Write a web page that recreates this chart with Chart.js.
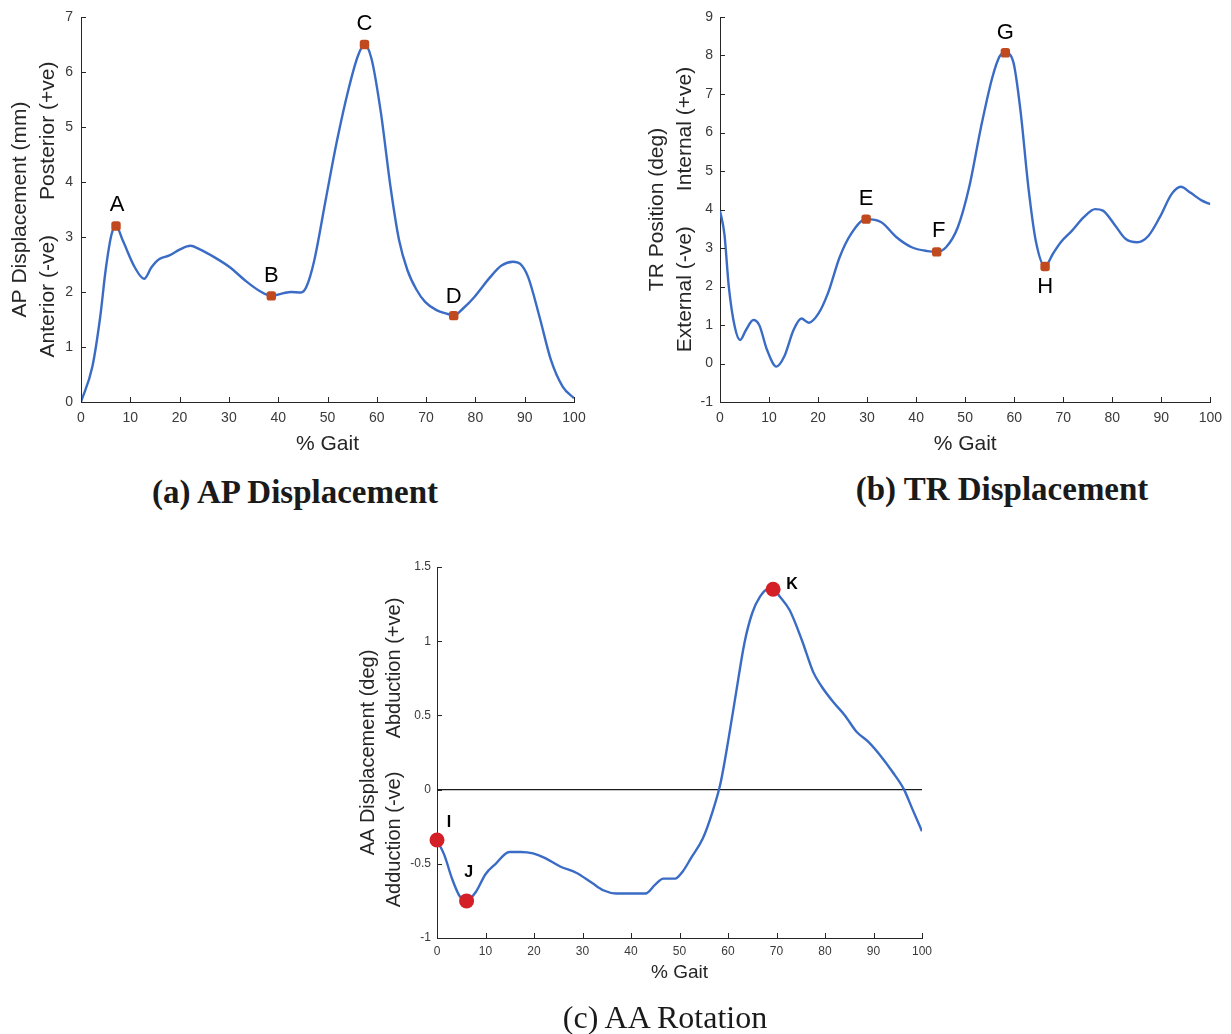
<!DOCTYPE html>
<html>
<head>
<meta charset="utf-8">
<script src="https://cdn.jsdelivr.net/npm/chart.js@4"></script>
<style>
  html, body { margin: 0; padding: 0; background: #fff; overflow: hidden; }
  body { width: 1231px; height: 1034px; position: relative; }
  canvas { position: absolute; }
  .cap { position: absolute; text-align: center; color: #1a1a1a; font-family: "Liberation Serif", "DejaVu Serif", serif; white-space: nowrap; }
</style>
</head>
<body>
<canvas id="apChart" width="610" height="470" style="left:0;top:0"></canvas>
<canvas id="trChart" width="600" height="470" style="left:630px;top:0"></canvas>
<canvas id="aaChart" width="600" height="460" style="left:340px;top:540px"></canvas>
<div class="cap" style="left:95px;top:474px;width:400px;font-size:33px;font-weight:bold">(a) AP Displacement</div>
<div class="cap" style="left:802px;top:471px;width:400px;font-size:33px;font-weight:bold">(b) TR Displacement</div>
<div class="cap" style="left:465px;top:999px;width:400px;font-size:32px">(c) AA Rotation</div>
<script>
// % gait ticks shared by all three panels
const gaitTicks = [0, 10, 20, 30, 40, 50, 60, 70, 80, 90, 100];

// (a) AP displacement (mm)
const apGait = [0, 2.3, 3.9, 5.0, 6.2, 7.1, 8.5, 10.9, 12.8, 14.3, 15.9, 17.8, 20.2, 22.2, 24, 27.1, 30.2, 33.3, 36.4, 38.6, 41.1, 42.6, 44.6, 45.7, 47.3, 49.6, 51.9, 54.3, 56.2, 57.5, 58.9, 60.8, 62.8, 64.5, 66.2, 68, 69.8, 72.1, 74.4, 75.6, 77.5, 79.8, 83, 85.3, 87.6, 89.1, 90.7, 93, 95.3, 97.7, 100];
const apValues = [0, 0.64, 1.55, 2.4, 3.05, 3.2, 2.93, 2.45, 2.24, 2.45, 2.6, 2.66, 2.78, 2.84, 2.78, 2.63, 2.45, 2.21, 2.01, 1.93, 1.98, 2.0, 1.99, 2.09, 2.57, 3.66, 4.74, 5.7, 6.3, 6.5, 6.25, 5.28, 3.9, 2.95, 2.4, 2.05, 1.82, 1.67, 1.6, 1.57, 1.7, 1.91, 2.27, 2.48, 2.55, 2.51, 2.27, 1.55, 0.77, 0.28, 0.07];
const apMarkNames = ['A', 'B', 'C', 'D'];
const apMarkGait = [7.1, 38.6, 57.5, 75.6];
const apMarkValues = [3.2, 1.93, 6.5, 1.57];
const apTicks = [0, 1, 2, 3, 4, 5, 6, 7];

// (b) TR position (deg)
const trGait = [0, 0.9, 1.8, 3, 4.1, 5.3, 6.8, 8, 9.6, 11.5, 13.1, 15, 16.6, 18.1, 20.1, 22, 24.4, 26.7, 29.8, 32.9, 36, 39.1, 42.3, 44.2, 46.1, 48.5, 50.8, 53.2, 55.5, 57, 58.2, 59.8, 61.3, 62.9, 64.4, 66.3, 67.9, 69.5, 71.8, 74.2, 76.5, 78.1, 80.4, 82.7, 85.1, 87.4, 89.7, 92.1, 94, 95.9, 98.3, 100];
const trValues = [3.97, 3.36, 1.99, 0.96, 0.61, 0.87, 1.13, 1.0, 0.35, -0.08, 0.18, 0.87, 1.17, 1.06, 1.3, 1.82, 2.76, 3.36, 3.75, 3.67, 3.28, 3.02, 2.92, 2.9, 3.02, 3.54, 4.57, 6.12, 7.41, 7.97, 8.07, 7.84, 6.55, 4.57, 3.19, 2.52, 2.85, 3.15, 3.45, 3.8, 4.01, 3.97, 3.62, 3.24, 3.15, 3.32, 3.8, 4.4, 4.59, 4.44, 4.23, 4.14];
const trMarkNames = ['E', 'F', 'G', 'H'];
const trMarkGait = [29.8, 44.2, 58.2, 66.3];
const trMarkValues = [3.75, 2.9, 8.07, 2.52];
const trTicks = [-1, 0, 1, 2, 3, 4, 5, 6, 7, 8, 9];

// (c) AA rotation (deg)
const aaGait = [0, 1.5, 3.1, 4.7, 6.1, 8, 10, 12.1, 14.9, 17.3, 19.8, 22.2, 25.5, 28.7, 32, 34.4, 36.9, 40.1, 43, 45, 46.7, 49.1, 50.7, 52.4, 54.8, 56.8, 58.5, 60.1, 61.7, 63.4, 65, 66.6, 68.2, 69.3, 70.7, 72.7, 75.2, 77.6, 79.2, 81.7, 84.1, 86.5, 89, 91.4, 93.9, 96.3, 98, 100];
const aaValues = [-0.34, -0.44, -0.6, -0.72, -0.75, -0.69, -0.57, -0.5, -0.42, -0.42, -0.43, -0.46, -0.52, -0.56, -0.63, -0.68, -0.7, -0.7, -0.7, -0.64, -0.6, -0.6, -0.55, -0.46, -0.33, -0.15, 0.05, 0.34, 0.66, 0.99, 1.19, 1.3, 1.35, 1.35, 1.3, 1.21, 1.01, 0.79, 0.7, 0.59, 0.5, 0.39, 0.32, 0.23, 0.12, 0.0, -0.13, -0.28];
const aaMarkNames = ['I', 'J', 'K'];
const aaMarkGait = [0, 6.1, 69.3];
const aaMarkValues = [-0.34, -0.75, 1.35];
const aaTicks = [-1, -0.5, 0, 0.5, 1, 1.5];

const LINE = 'rgb(58,108,198)';
const AXIS = '#262626';
const SANS = '"Liberation Sans", Arial, sans-serif';

const pts = (xs, ys) => xs.map((x, i) => ({ x: x, y: ys[i] }));

// MATLAB-style inward tick marks
const inwardTicks = {
  id: 'inwardTicks',
  afterDraw(chart) {
    const { ctx, chartArea: a, scales: { x, y } } = chart;
    ctx.save();
    ctx.strokeStyle = AXIS;
    ctx.lineWidth = 1;
    ctx.beginPath();
    x.ticks.forEach(t => {
      const px = Math.round(x.getPixelForValue(t.value)) + 0.5;
      ctx.moveTo(px, a.bottom); ctx.lineTo(px, a.bottom - 5);
    });
    y.ticks.forEach(t => {
      const py = Math.round(y.getPixelForValue(t.value)) + 0.5;
      ctx.moveTo(a.left, py); ctx.lineTo(a.left + 5, py);
    });
    ctx.stroke();
    ctx.restore();
  }
};

function letterPlugin(names, offsets, font) {
  return {
    id: 'letters',
    afterDatasetsDraw(chart) {
      const meta = chart.getDatasetMeta(1);
      const ctx = chart.ctx;
      ctx.save();
      ctx.font = font;
      ctx.fillStyle = '#000';
      ctx.textAlign = 'center';
      ctx.textBaseline = 'middle';
      meta.data.forEach((p, i) => ctx.fillText(names[i], p.x + offsets[i][0], p.y + offsets[i][1]));
      ctx.restore();
    }
  };
}

function panel(id, o) {
  const datasets = [
    { data: pts(o.xs, o.ys), borderColor: LINE, borderWidth: 2.4, pointRadius: 0, cubicInterpolationMode: 'monotone', order: 2 },
    { data: pts(o.mx, o.my), showLine: false, pointStyle: o.markStyle, pointRadius: o.markR, pointBackgroundColor: o.markC, pointBorderColor: o.markC, pointBorderWidth: 0, clip: false, order: 0 }
  ];
  if (o.zeroLine) {
    datasets.push({ data: pts([0, 100], [0, 0]), borderColor: '#1a1a1a', borderWidth: 1.2, pointRadius: 0, order: 3 });
  }
  return new Chart(document.getElementById(id), {
    type: 'line',
    data: { datasets: datasets },
    options: {
      responsive: false,
      animation: false,
      events: [],
      layout: { padding: o.pad },
      plugins: { legend: { display: false }, tooltip: { enabled: false } },
      scales: {
        x: {
          type: 'linear', min: 0, max: 100,
          afterBuildTicks: s => { s.ticks = gaitTicks.map(v => ({ value: v })); },
          afterFit: s => { s.height = o.xh; },
          grid: { display: false, drawTicks: false },
          border: { color: AXIS, width: 1 },
          ticks: { font: { family: SANS, size: o.tickSize }, color: '#3a3a3a', padding: o.xpad, maxRotation: 0, callback: v => String(v) },
          title: { display: true, text: '% Gait', color: AXIS, font: { family: SANS, size: o.xTitleSize, lineHeight: 1.2 }, padding: { top: 0, bottom: o.xTitlePad } }
        },
        y: {
          type: 'linear', min: o.yTicks[0], max: o.yTicks[o.yTicks.length - 1],
          afterBuildTicks: s => { s.ticks = o.yTicks.map(v => ({ value: v })); },
          afterFit: s => { s.width = o.yw; },
          grid: { display: false, drawTicks: false },
          border: { color: AXIS, width: 1 },
          ticks: { font: { family: SANS, size: o.tickSize }, color: '#3a3a3a', padding: o.ypad, callback: v => String(v) },
          title: { display: true, text: o.yTitle, color: AXIS, font: { family: SANS, size: o.yTitleSize, lineHeight: o.yTitleLH }, padding: { top: o.yTitlePad, bottom: 0 } }
        }
      }
    },
    plugins: [inwardTicks, letterPlugin(o.names, o.offsets, o.letterFont)]
  });
}

panel('apChart', {
  xs: apGait, ys: apValues, mx: apMarkGait, my: apMarkValues, names: apMarkNames, yTicks: apTicks,
  offsets: [[1, -21], [0, -20], [0, -21], [0, -19]],
  markStyle: 'rectRounded', markR: 5.5, markC: '#c04a1e', letterFont: '22px ' + SANS,
  pad: { left: 0, top: 17, right: 36, bottom: 0 }, yw: 81, xh: 68,
  tickSize: 14, xpad: 8, ypad: 8, xTitleSize: 21, xTitlePad: 13,
  yTitle: ['AP Displacement (mm)', 'Anterior (-ve)      Posterior (+ve)'], yTitleSize: 21, yTitleLH: 1.333, yTitlePad: 6
});

panel('trChart', {
  xs: trGait, ys: trValues, mx: trMarkGait, my: trMarkValues, names: trMarkNames, yTicks: trTicks,
  offsets: [[0, -20], [2, -21], [0, -20], [0, 20]],
  markStyle: 'rectRounded', markR: 5.5, markC: '#c04a1e', letterFont: '22px ' + SANS,
  pad: { left: 0, top: 17, right: 17, bottom: 0 }, yw: 90, xh: 68,
  tickSize: 14, xpad: 8, ypad: 7, xTitleSize: 21, xTitlePad: 13,
  yTitle: ['TR Position (deg)', 'External (-ve)      Internal (+ve)'], yTitleSize: 21, yTitleLH: 1.333, yTitlePad: 13
});

panel('aaChart', {
  xs: aaGait, ys: aaValues, mx: aaMarkGait, my: aaMarkValues, names: aaMarkNames, yTicks: aaTicks,
  offsets: [[12, -17], [2, -28], [19, -5]], zeroLine: true,
  markStyle: 'circle', markR: 7.5, markC: '#d41f26', letterFont: 'bold 16px ' + SANS,
  pad: { left: 0, top: 27, right: 18, bottom: 0 }, yw: 97, xh: 62,
  tickSize: 12, xpad: 6, ypad: 6, xTitleSize: 19, xTitlePad: 16,
  yTitle: ['AA Displacement (deg)', 'Adduction (-ve)      Abduction (+ve)'], yTitleSize: 20, yTitleLH: 1.3, yTitlePad: 15
});
</script>
</body>
</html>
